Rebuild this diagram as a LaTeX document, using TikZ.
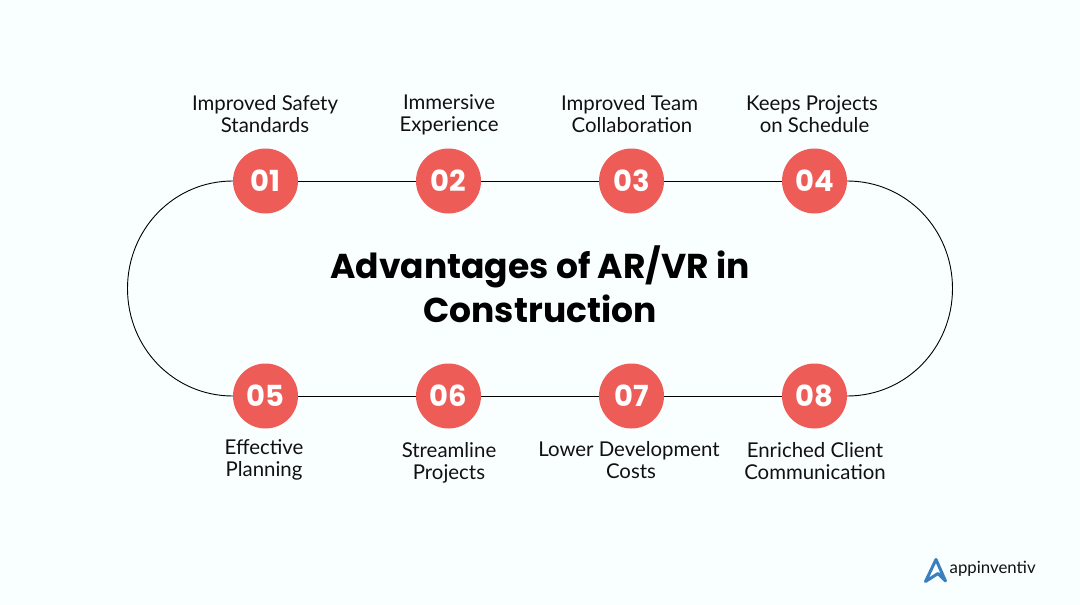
\documentclass[tikz,border=0pt]{standalone}
\usepackage{fontspec}
\setmainfont{Poppins}
\newfontfamily\labelfont{Lato}
\definecolor{bgc}{HTML}{F9FEFF}
\definecolor{badge}{HTML}{EE5C58}
\definecolor{logob}{HTML}{3A80BE}
\definecolor{ink}{HTML}{111111}
\tikzset{
  badgenode/.style={circle,fill=badge,minimum size=65pt,inner sep=0pt,text=white,font=\fontsize{29}{29}\selectfont\bfseries},
  lab/.style={align=center,text=ink,inner sep=0pt,font=\labelfont\fontsize{20.4}{22}\selectfont},
  link/.style={draw=black,line width=0.9pt},
}
\begin{document}
\begin{tikzpicture}[x=1pt,y=-1pt]
\useasboundingbox (0,0) rectangle (1080,605);
\fill[bgc] (0,0) rectangle (1080,605);
\node[badgenode] (n1) at (265.5,181) {01};
\node[badgenode] (n2) at (448.5,181) {02};
\node[badgenode] (n3) at (631.5,181) {03};
\node[badgenode] (n4) at (814.5,181) {04};
\node[badgenode] (n5) at (265.5,396) {05};
\node[badgenode] (n6) at (448.5,396) {06};
\node[badgenode] (n7) at (631.5,396) {07};
\node[badgenode] (n8) at (814.5,396) {08};
\draw[link] (n1) -- (n2);
\draw[link] (n2) -- (n3);
\draw[link] (n3) -- (n4);
\draw[link] (n5) -- (n6);
\draw[link] (n6) -- (n7);
\draw[link] (n7) -- (n8);
\draw[link] (n1.west) .. controls (174,181) and (127.5,229) .. (127.5,288.5) .. controls (127.5,348) and (174,396) .. (n5.west);
\draw[link] (n4.east) .. controls (906,181) and (952.5,229) .. (952.5,288.5) .. controls (952.5,348) and (906,396) .. (n8.east);
\node[lab] (t1) at (265,114) {Improved Safety\\Standards};
\node[lab] (t2) at (449,114.5) {Immersive\\Experience};
\node[lab] (t3) at (629.5,114) {Improved Team\\\hspace*{5pt}Collaboration};
\node[lab] (t4) at (812,114) {Keeps Projects\\\hspace*{5pt}on Schedule};
\node[lab] (t5) at (264,460) {Effective\\Planning};
\node[lab] (t6) at (449,462.5) {Streamline\\Projects};
\node[lab] (t7) at (629,460) {Lower Development\\\hspace*{4pt}Costs};
\node[lab] (t8) at (815,461) {Enriched Client\\Communication};
\node[align=center,text=black,inner sep=0pt,font=\fontsize{34.5}{44}\selectfont\bfseries] (title) at (540,284.5) {Advantages of AR/VR in\\Construction};
\draw[logob,line width=3pt,line cap=round,line join=round] (925.5,581.5) -- (936,559.5) -- (945.5,581) -- (938,573.5) -- cycle;
\node[anchor=west,inner sep=0pt,text=ink,font=\fontsize{16.8}{17}\selectfont\labelfont] (brand) at (949.5,569) {appinventiv};
\end{tikzpicture}
\end{document}
